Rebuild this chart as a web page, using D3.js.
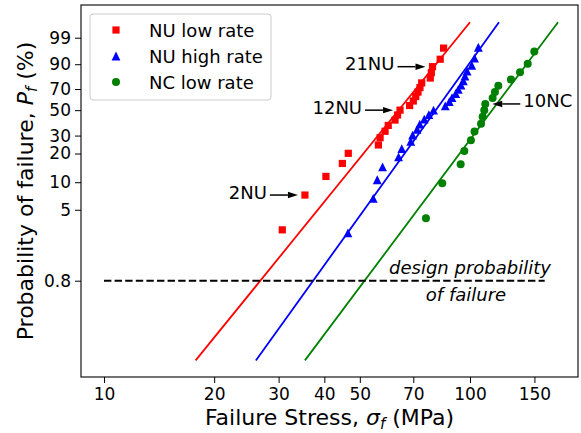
<!DOCTYPE html>
<html>
<head>
<meta charset="utf-8">
<script src="https://cdn.jsdelivr.net/npm/d3@7"></script>
<style>
  body { margin: 0; background: #fff; }
  text { font-family: "DejaVu Sans", sans-serif; }
</style>
</head>
<body>
<div id="vis"></div>
<script>
const width = 581;
const height = 433;

// tick labels
const xTicks = [10, 20, 30, 40, 50, 70, 100, 150];
const yTicks = [0.8, 5, 10, 20, 30, 50, 70, 90, 99];

// NU low rate
const nuLowStress = [30.7, 35.4, 40.4, 44.8, 46.5, 56.2, 56.8, 58.6, 59.8, 62.4, 63.4, 64.4, 68.4, 70.0, 71.1, 72.1, 73.0, 73.8, 77.9, 78.4, 79.0, 82.9, 84.7];
const nuLowProb = [2.99, 7.26, 11.54, 15.81, 20.09, 24.36, 28.63, 32.91, 37.18, 41.45, 45.73, 50.00, 54.27, 58.55, 62.82, 67.09, 71.37, 75.64, 79.91, 84.19, 88.46, 92.74, 97.01];

// NU high rate
const nuHighStress = [46.4, 54.4, 55.8, 57.7, 63.8, 65.1, 68.9, 69.7, 71.7, 72.9, 75.0, 77.2, 79.5, 85.6, 87.8, 89.3, 91.4, 92.9, 94.5, 95.9, 96.9, 98.2, 101.1, 102.9, 105.4];
const nuHighProb = [2.76, 6.69, 10.63, 14.57, 18.50, 22.44, 26.38, 30.31, 34.25, 38.19, 42.13, 46.06, 50.00, 53.94, 57.87, 61.81, 65.75, 69.69, 73.62, 77.56, 81.50, 85.43, 89.37, 93.31, 97.24];

// NC low rate
const ncLowStress = [75.8, 84.0, 94.3, 96.5, 100.6, 102.9, 107.2, 108.3, 109.4, 110.1, 115.3, 117.0, 119.5, 129.4, 137.0, 143.8, 149.9];
const ncLowProb = [4.02, 9.77, 15.52, 21.26, 27.01, 32.76, 38.51, 44.25, 50.00, 55.75, 61.49, 67.24, 72.99, 78.74, 84.48, 90.23, 95.98];

// Weibull fit lines, ends at P = 0.1 % and 99.9 %
const fitProb = [0.1, 99.9];
const fitNuLow = [17.8, 100];
const fitNuHigh = [26.0, 120];
const fitNcLow = [35.4, 174];

// design probability of failure
const designProb = 0.8;
const designStress = [10, 160];

const series = [
  { name: "NU low rate", stress: nuLowStress, prob: nuLowProb, fit: fitNuLow, color: "#ff0000", marker: "square" },
  { name: "NU high rate", stress: nuHighStress, prob: nuHighProb, fit: fitNuHigh, color: "#0000ff", marker: "triangle" },
  { name: "NC low rate", stress: ncLowStress, prob: ncLowProb, fit: fitNcLow, color: "#008000", marker: "circle" }
];

// annotated specimens: series index, point index
const annots = [
  { label: "2NU", s: 0, i: 1, side: "left" },
  { label: "12NU", s: 0, i: 11, side: "left" },
  { label: "21NU", s: 0, i: 20, side: "left" },
  { label: "10NC", s: 2, i: 9, side: "right" }
];

const margin = { left: 81, right: 3, top: 5, bottom: 56 };

const weib = p => Math.log(-Math.log(1 - p / 100));

const x = d3.scaleLog().domain([8.653, 197.3]).range([margin.left, width - margin.right]);
const yW = d3.scaleLinear().domain([-7.341, 2.382]).range([height - margin.bottom, margin.top]);
const y = p => yW(weib(p));

const svg = d3.select("#vis").append("svg")
  .attr("width", width)
  .attr("height", height);

// axes
const xAxis = svg.append("g")
  .attr("transform", "translate(0," + (height - margin.bottom) + ")")
  .call(d3.axisBottom(x).tickValues(xTicks).tickFormat(d3.format("d")).tickSize(6).tickPadding(5));
const yAxis = svg.append("g")
  .attr("transform", "translate(" + margin.left + ",0)")
  .call(d3.axisLeft(yW).tickValues(yTicks.map(weib)).tickFormat((d, i) => yTicks[i]).tickSize(6).tickPadding(4));

[xAxis, yAxis].forEach(g => {
  g.select(".domain").remove();
  g.selectAll("line").attr("stroke", "#000").attr("stroke-width", 1);
  g.selectAll("text").attr("font-size", 17).attr("fill", "#000").attr("font-family", "DejaVu Sans");
});

// frame
svg.append("rect")
  .attr("x", margin.left).attr("y", margin.top)
  .attr("width", width - margin.right - margin.left)
  .attr("height", height - margin.bottom - margin.top)
  .attr("fill", "none").attr("stroke", "#000").attr("stroke-width", 1.1);

function drawMarker(g, type, cx, cy, color) {
  if (type === "square") {
    g.append("rect").attr("x", cx - 3.6).attr("y", cy - 3.6).attr("width", 7.2).attr("height", 7.2).attr("fill", color);
  } else if (type === "triangle") {
    const h = 4.4;
    g.append("path").attr("d", "M" + cx + "," + (cy - h) + "L" + (cx + h) + "," + (cy + h) + "L" + (cx - h) + "," + (cy + h) + "Z").attr("fill", color);
  } else {
    g.append("circle").attr("cx", cx).attr("cy", cy).attr("r", 4).attr("fill", color);
  }
}

// data points
series.forEach(s => {
  const g = svg.append("g");
  s.stress.forEach((v, i) => drawMarker(g, s.marker, x(v), y(s.prob[i]), s.color));
});

// fit lines
series.forEach(s => {
  svg.append("line")
    .attr("x1", x(s.fit[0])).attr("y1", y(fitProb[0]))
    .attr("x2", x(s.fit[1])).attr("y2", y(fitProb[1]))
    .attr("stroke", s.color).attr("stroke-width", 1.8);
});

// design line
svg.append("line")
  .attr("x1", x(designStress[0])).attr("y1", y(designProb))
  .attr("x2", x(designStress[1])).attr("y2", y(designProb))
  .attr("stroke", "#000").attr("stroke-width", 2)
  .attr("stroke-dasharray", "7.4,3.2");

const designText = svg.append("text")
  .attr("text-anchor", "middle")
  .attr("font-size", 18)
  .attr("font-style", "italic");
designText.append("tspan").attr("x", 470).attr("y", y(designProb) - 7).text("design probability");
designText.append("tspan").attr("x", 466).attr("y", y(designProb) + 20).text("of failure");

// annotations: arrow from label toward the point
annots.forEach(a => {
  const s = series[a.s];
  const px = x(s.stress[a.i]);
  const py = y(s.prob[a.i]);
  const dir = a.side === "left" ? -1 : 1;
  const tip = px + dir * 7;
  const start = px + dir * 35;
  const head = 10;
  const base = tip + dir * head;
  svg.append("line")
    .attr("x1", start).attr("y1", py)
    .attr("x2", base).attr("y2", py)
    .attr("stroke", "#000").attr("stroke-width", 1.5);
  svg.append("path")
    .attr("d", "M" + tip + "," + py + "L" + base + "," + (py - 3.2) + "L" + base + "," + (py + 3.2) + "Z")
    .attr("fill", "#000");
  svg.append("text")
    .attr("x", start + dir * 3)
    .attr("y", py + 3.5)
    .attr("text-anchor", a.side === "left" ? "end" : "start")
    .attr("font-size", 18)
    .text(a.label);
});

// legend
const lg = svg.append("g").attr("transform", "translate(90,14)");
lg.append("rect")
  .attr("width", 181).attr("height", 86).attr("rx", 3)
  .attr("fill", "#fff").attr("fill-opacity", 0.8)
  .attr("stroke", "#cccccc").attr("stroke-width", 1);
series.forEach((s, i) => {
  const cy = 16 + i * 26;
  drawMarker(lg, s.marker, 26, cy, s.color);
  lg.append("text").attr("x", 59).attr("y", cy + 6.5).attr("font-size", 18).text(s.name);
});

// axis labels
const xl = svg.append("text")
  .attr("x", (margin.left + width - margin.right) / 2)
  .attr("y", 425)
  .attr("text-anchor", "middle")
  .attr("font-size", 22);
xl.append("tspan").text("Failure Stress, ");
xl.append("tspan").attr("font-style", "italic").text("σ");
xl.append("tspan").attr("font-style", "italic").attr("font-size", 15).attr("dy", 4).text("f");
xl.append("tspan").attr("dy", -4).text(" (MPa)");

const yl = svg.append("text")
  .attr("transform", "translate(33," + ((margin.top + height - margin.bottom) / 2) + ") rotate(-90)")
  .attr("text-anchor", "middle")
  .attr("font-size", 22);
yl.append("tspan").text("Probability of failure, ");
yl.append("tspan").attr("font-style", "italic").text("P");
yl.append("tspan").attr("font-style", "italic").attr("font-size", 15).attr("dy", 4).text("f");
yl.append("tspan").attr("dy", -4).text(" (%)");
</script>
</body>
</html>
